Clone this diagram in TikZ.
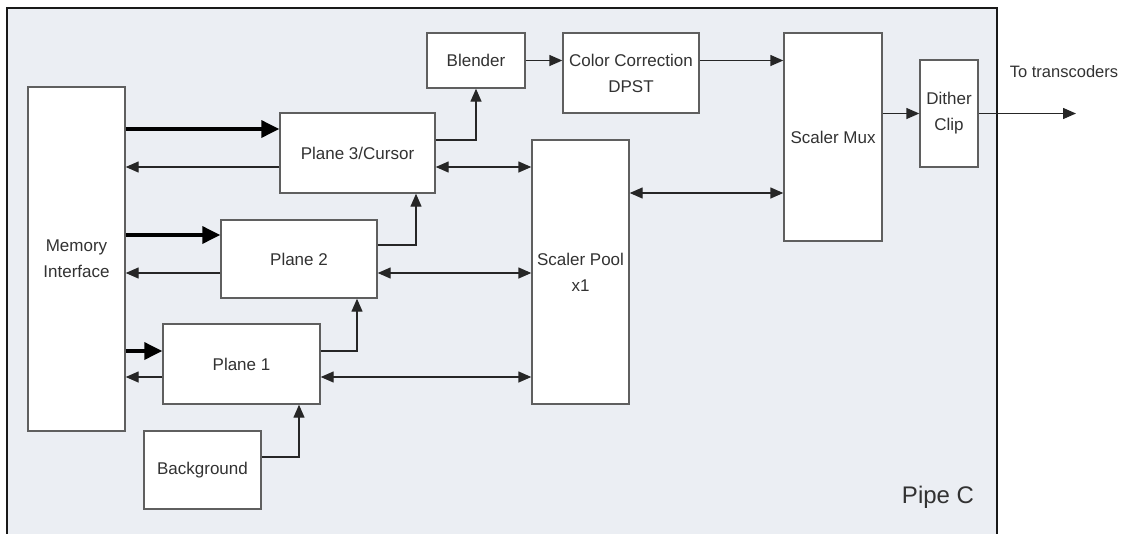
\documentclass[tikz,border=0pt]{standalone}
\usepackage{fontspec}
\setmainfont{Liberation Sans}
\usetikzlibrary{arrows.meta}

\definecolor{pipebg}{RGB}{235,238,243}
\definecolor{boxline}{RGB}{95,95,95}
\definecolor{boxtext}{RGB}{50,50,50}

\begin{document}
\begin{tikzpicture}[x=1pt,y=-1pt,
    blk/.style={draw=boxline,line width=1.4pt,fill=white,inner sep=0pt,
        align=center,text=boxtext,font=\fontsize{17}{26}\selectfont},
    arr/.style={line width=1.4pt,draw=black!85,-{Triangle[length=13pt,width=11pt]}},
    biarr/.style={line width=1.4pt,draw=black!85,{Triangle[length=13pt,width=11pt]}-{Triangle[length=13pt,width=11pt]}},
    fatarr/.style={line width=3.4pt,-{Triangle[length=18pt,width=17pt]}}]

    \useasboundingbox (0,0) rectangle (1123,533);

    % marco del pipe
    \fill[pipebg] (7,8) rectangle (997,540);
    \draw[line width=2.2pt,black!90] (7,540) -- (7,8) -- (997,8) -- (997,540);
    \node[text=boxtext,font=\fontsize{24}{28}\selectfont] (pipe) at (938,497) {Pipe C};

    % bloques
    \node[blk,minimum width=97pt,minimum height=344pt] (mem) at (76.5,259) {Memory\\Interface};
    \node[blk,minimum width=155pt,minimum height=80pt] (p3) at (357.5,153) {Plane 3/Cursor};
    \node[blk,minimum width=156pt,minimum height=78pt] (p2) at (299,259) {Plane 2};
    \node[blk,minimum width=157pt,minimum height=80pt] (p1) at (241.5,364) {Plane 1};
    \node[blk,minimum width=117pt,minimum height=78pt] (bg) at (202.5,470) {Background};
    \node[blk,minimum width=98pt,minimum height=55pt] (blend) at (476,60.5) {Blender};
    \node[blk,minimum width=136pt,minimum height=80pt] (cc) at (631,73) {Color Correction\\DPST};
    \node[blk,minimum width=97pt,minimum height=264pt] (pool) at (580.5,272) {Scaler Pool\\x1};
    \node[blk,minimum width=98pt,minimum height=208pt] (mux) at (833,137) {Scaler Mux};
    \node[blk,minimum width=58pt,minimum height=107pt] (dith) at (949,113.5) {Dither\\Clip};

    % lectura de memoria
    \draw[fatarr] (mem.east |- 0,129) -- (p3.west |- 0,129);
    \draw[fatarr] (mem.east |- 0,235) -- (p2.west |- 0,235);
    \draw[fatarr] (mem.east |- 0,351) -- (p1.west |- 0,351);

    % retorno a memoria
    \draw[arr] (p3.west |- 0,167) -- (mem.east |- 0,167);
    \draw[arr] (p2.west |- 0,273) -- (mem.east |- 0,273);
    \draw[arr] (p1.west |- 0,377) -- (mem.east |- 0,377);

    % cadena de planos
    \draw[arr] (bg.east |- 0,457) -| (299,0 |- p1.south);
    \draw[arr] (p1.east |- 0,351) -| (357,0 |- p2.south);
    \draw[arr] (p2.east |- 0,245) -| (416,0 |- p3.south);
    \draw[arr] (p3.east |- 0,140) -| (blend.south);

    % escalador
    \draw[biarr] (p3.east |- 0,167) -- (pool.west |- 0,167);
    \draw[biarr] (p2.east |- 0,273) -- (pool.west |- 0,273);
    \draw[biarr] (p1.east |- 0,377) -- (pool.west |- 0,377);
    \draw[biarr] (pool.east |- 0,193) -- (mux.west |- 0,193);

    % salida
    \draw[arr] (blend.east) -- (cc.west |- blend.east);
    \draw[arr] (cc.east |- blend.east) -- (mux.west |- blend.east);
    \draw[arr] (mux.east |- dith.west) -- (dith.west);
    \coordinate (out) at (1076,113.5);
    \draw[arr] (dith.east) -- (out);
    \node[text=boxtext,font=\fontsize{16.5}{20}\selectfont] (trans) at (1064,72) {To transcoders};

\end{tikzpicture}
\end{document}
